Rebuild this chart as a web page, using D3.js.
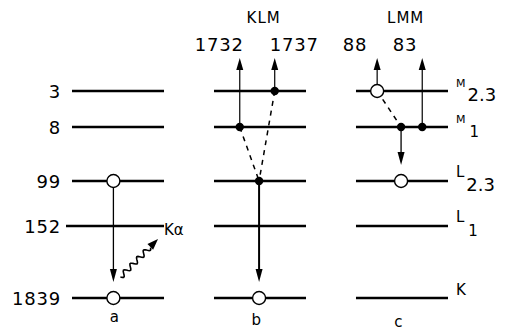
<!DOCTYPE html>
<html><head><meta charset="utf-8">
<script src="https://cdn.jsdelivr.net/npm/d3@7"></script>
<style>html,body{margin:0;padding:0;background:#fff;} svg{display:block;font-family:"DejaVu Sans",sans-serif;}</style>
</head><body><svg id="c" width="507" height="334"></svg>
<script>
// ---- data ----
const levels = [3, 8, 99, 152, 1839];               // binding energies (eV)
const shellNames = [["M","2.3"],["M","1"],["L","2.3"],["L","1"],["K",""]];
const columns = ["a", "b", "c"];
const processNames = ["", "KLM", "LMM"];
// holes (open circles): column, level, place along the level line
const holes = [["a",99,0.45],["a",1839,0.45],["b",1839,0.49],["c",3,0.23],["c",99,0.49]];
// electrons (filled dots)
const electrons = [["b",8,0.28],["b",3,0.66],["b",99,0.49],["c",8,0.49],["c",8,0.72]];
// emitted electrons: column, level, place, kinetic energy (eV)
const emitted = [["b",8,0.28,1732],["b",3,0.66,1737],["c",3,0.23,88],["c",8,0.72,83]];
// filling transitions: column, from level, to level, place
const fills = [["a",99,1839,0.45],["b",99,1839,0.49],["c",8,99,0.49]];
// dashed electron hops: column, from level, from place, to level, to place
const hops = [["b",8,0.28,99,0.49],["b",3,0.66,99,0.49],["c",3,0.23,8,0.49]];
const photon = {column:"a", label:"Kα"};

// ---- scales ----
const svg = d3.select("#c");
const y = d3.scaleLinear().domain(levels).range([91, 127, 181, 226, 298]);
const x = d3.scaleBand().domain(columns).range([72, 448]).paddingInner(0.352).paddingOuter(0);
const bw = x.bandwidth();
const px = (col, f) => x(col) + f * bw;
const topY = 58;

function arrowHead(g, tipX, tipY, dir, len = 12, w = 7) {
  // dir: +1 pointing down, -1 pointing up
  g.append("path")
    .attr("d", `M${tipX},${tipY} L${tipX - w/2},${tipY - dir*len} L${tipX + w/2},${tipY - dir*len} Z`)
    .attr("fill", "#000");
}

// ---- level lines ----
const gl = svg.append("g");
columns.forEach(col => {
  levels.forEach(lv => {
    const x0 = (col === "a" && lv === 152) ? x(col) - 6 : x(col);
    gl.append("line").attr("x1", x0).attr("x2", x(col) + bw)
      .attr("y1", y(lv)).attr("y2", y(lv))
      .attr("stroke", "#000").attr("stroke-width", 2.4);
  });
});

// ---- left energy labels ----
svg.append("g").selectAll("text").data(levels).join("text")
  .attr("x", 61).attr("y", d => y(d) + 6.5)
  .attr("text-anchor", "end").attr("font-size", 18).attr("letter-spacing", 0.8)
  .text(d => d);

// ---- right shell labels ----
const gr = svg.append("g");
levels.forEach((lv, i) => {
  const [main, sub] = shellNames[i];
  const t = gr.append("text").attr("x", 456).attr("y", y(lv) - 4);
  const small = main === "M";
  t.append("tspan").attr("font-size", small ? 11 : 15).text(main);
  if (sub) t.append("tspan").attr("font-size", sub === "1" ? 15 : 18)
      .attr("dx", sub === "1" ? 4 : 2).attr("dy", 14).text(sub);
  if (!sub) t.attr("y", y(lv) - 3);
});

// ---- process titles and column letters ----
svg.append("g").selectAll("text").data(columns).join("text")
  .attr("x", d => x(d) + bw * 0.46)
  .attr("y", (d, i) => 322 + i * 2.5)
  .attr("text-anchor", "middle").attr("font-size", 15).text(d => d);
svg.append("g").selectAll("text").data(columns.filter((c, i) => processNames[i]))
  .join("text")
  .attr("x", d => x(d) + bw * 0.54)
  .attr("y", 23).attr("text-anchor", "middle").attr("font-size", 15).attr("letter-spacing", 1)
  .text(d => processNames[columns.indexOf(d)]);

// ---- emitted electrons (up arrows) ----
const ge = svg.append("g");
const labelOffsets = {1732: [4, "end"], 1737: [-5, "start"], 88: [-10, "end"], 83: [-5, "end"]};
emitted.forEach(([col, lv, f, e]) => {
  const xx = px(col, f);
  ge.append("line").attr("x1", xx).attr("x2", xx).attr("y1", y(lv)).attr("y2", topY + 8)
    .attr("stroke", "#000").attr("stroke-width", 1.2);
  arrowHead(ge, xx, topY, -1);
  const [dx, anchor] = labelOffsets[e];
  ge.append("text").attr("x", xx + dx).attr("y", 51).attr("text-anchor", anchor)
    .attr("font-size", 18).attr("letter-spacing", 0.8).text(e);
});

// ---- filling transitions (down arrows) ----
const gf = svg.append("g");
fills.forEach(([col, from, to, f]) => {
  const xx = px(col, f);
  const tip = y(to) - 16;
  gf.append("line").attr("x1", xx).attr("x2", xx).attr("y1", y(from)).attr("y2", tip - 8)
    .attr("stroke", "#000").attr("stroke-width", col === "b" ? 2 : 1.3);
  arrowHead(gf, xx, tip, 1, 13, 7);
});

// ---- dashed hops ----
svg.append("g").selectAll("line").data(hops).join("line")
  .attr("x1", d => px(d[0], d[2])).attr("y1", d => y(d[1]))
  .attr("x2", d => px(d[0], d[4])).attr("y2", d => y(d[3]))
  .attr("stroke", "#000").attr("stroke-width", 1.5).attr("stroke-dasharray", "5,5");

// ---- photon (wavy arrow) ----
{
  const col = photon.column;
  const x0 = px(col, 0.45) + 7, y0 = y(1839) - 21;
  const x1 = x(col) + bw - 6, y1 = y(152) + 13;
  const dx = x1 - x0, dy = y1 - y0, L = Math.hypot(dx, dy);
  const ux = dx / L, uy = dy / L, nx = -uy, ny = ux;
  const waveLen = L - 11;
  const pts = d3.range(0, waveLen + 0.01, 1).map(s => {
    const a = 2.6 * Math.sin(s / waveLen * Math.PI * 2 * 4.5);
    return [x0 + ux * s + nx * a, y0 + uy * s + ny * a];
  });
  const gp = svg.append("g");
  gp.append("path").attr("d", d3.line()(pts)).attr("fill", "none")
    .attr("stroke", "#000").attr("stroke-width", 1.6);
  const bx = x0 + ux * waveLen, by = y0 + uy * waveLen;
  gp.append("path").attr("d",
    `M${x1},${y1} L${bx + nx * 4},${by + ny * 4} L${bx - nx * 4},${by - ny * 4} Z`).attr("fill", "#000");
  gp.append("text").attr("x", x1 + 6).attr("y", y1 - 4).attr("font-size", 15).text(photon.label);
}

// ---- circles ----
svg.append("g").selectAll("circle").data(holes).join("circle")
  .attr("cx", d => px(d[0], d[2])).attr("cy", d => y(d[1])).attr("r", 6.5)
  .attr("fill", "#fff").attr("stroke", "#000").attr("stroke-width", 1.4);
svg.append("g").selectAll("circle").data(electrons).join("circle")
  .attr("cx", d => px(d[0], d[2])).attr("cy", d => y(d[1])).attr("r", 4.2)
  .attr("fill", "#000");
</script></body></html>
